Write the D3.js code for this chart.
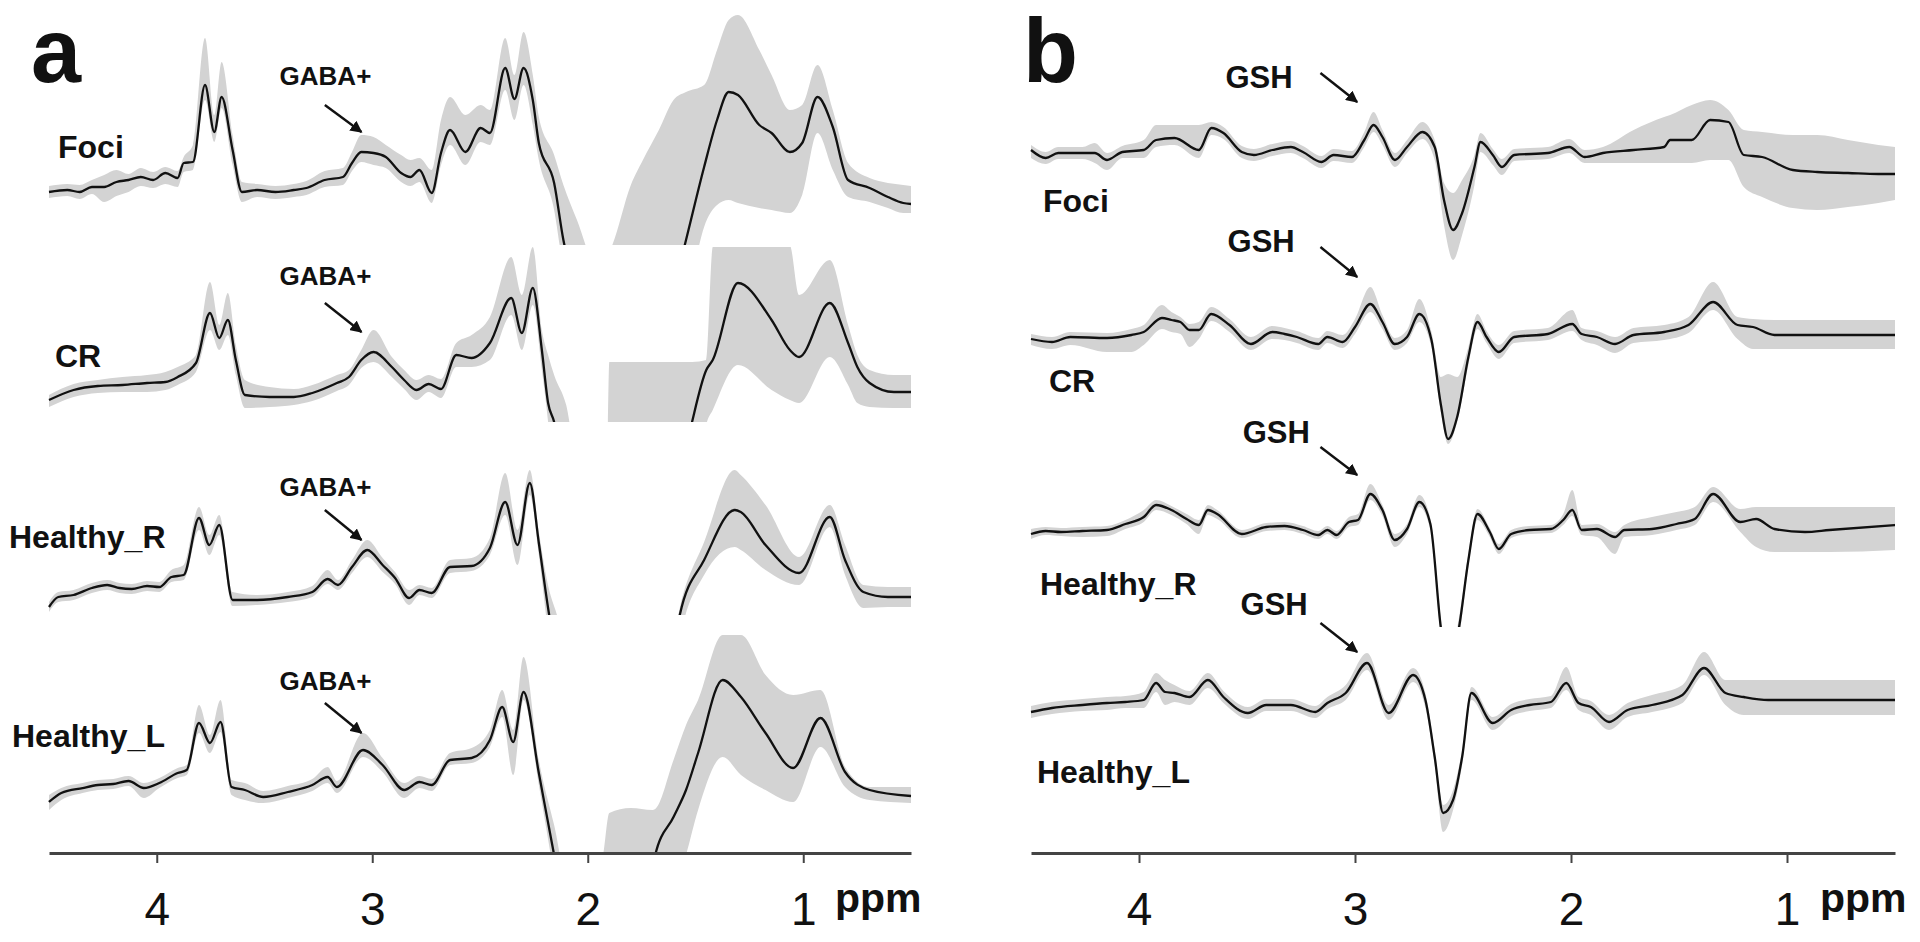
<!DOCTYPE html>
<html><head><meta charset="utf-8">
<script src="https://cdn.jsdelivr.net/npm/d3@7/dist/d3.min.js"></script>
<style>
html,body{margin:0;padding:0;background:#fff;}
svg{display:block;font-family:"Liberation Sans",Arial,sans-serif;}
</style></head>
<body>
<svg id="chart" width="1920" height="942"></svg>
<script>
// ---------------- DATA ----------------
const tickValues = [4, 3, 2, 1];
const tickLabels = ["4", "3", "2", "1"];
const axisUnit = "ppm";
const panelLetters = ["a", "b"];
const groupNames = ["Foci", "CR", "Healthy_R", "Healthy_L"];
const markerA = "GABA+";
const markerB = "GSH";

// Panel a (GABA-edited), intensities in a.u.
const ppmA_Foci = [4.50,4.415,4.358,4.301,4.244,4.187,4.131,4.074,4.017,3.960,3.903,3.875,3.832,3.776,3.733,3.699,3.648,3.605,3.534,3.449,3.364,3.306,3.221,3.136,3.094,3.051,2.994,2.937,2.866,2.823,2.781,2.724,2.681,2.639,2.568,2.497,2.454,2.383,2.340,2.298,2.255,2.227,2.156,2.113,2.05,1.95,1.886,1.80,1.744,1.67,1.602,1.544,1.460,1.400,1.346,1.303,1.204,1.147,1.062,1.005,0.934,0.863,0.792,0.692,0.607,0.536,0.500];
const meanA_Foci = [-0.2,0.0,-0.2,0.3,0.3,0.8,1.0,1.3,1.0,1.7,1.2,2.7,2.8,10.5,5.8,9.3,4.0,-0.2,0.0,-0.2,0.0,0.2,1.0,1.3,2.7,3.8,3.7,3.3,1.7,1.3,2.0,-0.3,3.7,6.0,3.8,6.2,5.7,12.2,9.1,12.2,9.0,4.7,0.7,-5.0,-10,-15,-15,-15,-15,-14,-10,-5.0,2.3,7.0,9.8,9.5,6.5,5.7,3.8,4.7,9.3,6.3,1.0,0.2,-0.7,-1.3,-1.4];
const hiA_Foci = [0.4,0.6,0.5,1.0,1.5,2.0,1.6,2.2,1.8,2.3,1.9,3.3,4.5,15.2,7.5,12.8,5.5,0.8,0.6,0.4,0.6,0.9,1.9,2.2,3.8,5.5,5.3,4.5,3.5,3.0,3.2,2.0,7.0,9.3,7.5,8.5,8.0,15.2,11.5,15.8,11.5,7.3,3.5,0.5,-3.0,-8,-5.5,0.5,3.0,6.0,9.0,9.8,10.5,14.0,17.0,17.5,14.0,11.5,8.0,8.5,12.5,8.0,2.7,1.2,0.7,0.5,0.4];
const loA_Foci = [-0.8,-0.6,-0.9,-0.4,-1.2,-0.6,-0.2,0.4,0.2,0.6,0.3,1.8,2.0,9.0,4.8,8.2,2.5,-1.2,-0.7,-0.9,-0.7,-0.5,0.3,0.5,1.9,2.8,2.5,2.2,0.8,0.4,0.8,-1.3,2.5,4.5,2.5,4.8,4.5,10.0,7.0,10.5,6.5,3.0,-2.0,-8.0,-15,-20,-20,-20,-20,-20,-18,-12,-3.7,-1.5,-1.0,-1.3,-1.8,-2.0,-2.3,-0.5,5.7,2.0,-0.7,-1.2,-1.8,-2.3,-2.3];

const ppmA_CR = [4.50,4.386,4.273,4.159,4.045,3.960,3.903,3.818,3.753,3.710,3.670,3.633,3.591,3.477,3.364,3.278,3.164,3.108,3.051,2.994,2.909,2.852,2.795,2.738,2.681,2.610,2.539,2.454,2.355,2.306,2.255,2.213,2.184,2.156,2.10,2.06,2.00,1.91,1.90,1.75,1.63,1.516,1.45,1.42,1.303,1.147,1.062,1.019,0.877,0.792,0.749,0.692,0.579,0.500];
const meanA_CR = [-0.5,0.5,0.9,1.0,1.2,1.3,1.8,3.2,8.2,5.7,7.5,3.5,0.0,-0.2,-0.2,0.2,1.2,1.8,3.5,4.3,2.8,1.5,0.5,1.1,0.6,4.0,3.7,5.2,9.7,6.2,10.7,4.5,-0.8,-2.7,-10,-15,-15,-15,-15,-15,-15,-2.7,2.5,3.5,11.2,7.5,4.5,3.8,9.2,5.2,2.8,1.2,0.3,0.3];
const hiA_CR = [0.0,1.1,1.5,1.8,2.0,2.3,2.8,4.0,11.3,7.0,10.2,5.0,1.5,0.8,0.6,1.0,2.0,2.5,4.5,6.5,3.8,2.5,1.5,2.0,1.6,5.2,6.0,7.8,13.8,10.0,14.8,6.5,4.0,2.0,-1.0,-5,-5,-5,3.3,3.3,3.3,3.3,3.5,14.8,16,16,15,10,13.5,7.0,4.0,2.5,2.0,2.0];
const loA_CR = [-1.2,-0.2,0.2,0.3,0.3,0.5,1.0,2.3,6.5,4.5,6.0,2.0,-1.3,-1.2,-1.0,-0.6,0.4,1.0,2.7,3.3,1.8,0.6,-0.5,0.3,-0.3,2.8,2.8,3.5,8.0,4.5,9.0,2.5,-2.7,-10,-20,-20,-20,-20,-20,-20,-20,-20,-3,-1.5,3.0,0.5,-0.5,-0.8,3.8,1.0,-0.8,-1.2,-1.3,-1.3];

const ppmA_HR = [4.50,4.457,4.386,4.301,4.230,4.173,4.116,4.045,3.988,3.932,3.875,3.804,3.756,3.710,3.648,3.534,3.392,3.278,3.207,3.159,3.094,3.023,2.952,2.894,2.829,2.781,2.724,2.639,2.539,2.454,2.383,2.326,2.269,2.227,2.179,2.15,2.0,1.65,1.573,1.460,1.318,1.290,1.175,1.019,0.877,0.806,0.721,0.607,0.500];
const meanA_HR = [-0.7,0.3,0.5,1.2,1.5,1.2,1.1,1.4,1.3,2.3,2.5,8.2,5.5,7.5,0.0,0.0,0.3,0.8,2.1,1.5,3.3,5.0,3.5,2.2,0.2,1.0,0.7,3.3,3.4,5.2,9.8,5.5,11.7,5.7,-1.5,-5,-15,-15,-1.5,4.0,9.0,8.8,5.5,2.7,8.3,4.0,0.8,0.3,0.3];
const hiA_HR = [-0.2,0.8,1.0,1.7,2.0,1.7,1.6,1.9,1.8,3.0,3.5,9.3,6.5,8.5,0.8,0.5,0.8,1.4,3.0,2.0,4.0,6.0,4.2,2.8,1.0,1.5,1.2,4.0,4.2,6.2,12.7,7.0,13.0,6.8,1.0,-1.0,-10,-10,-0.8,5.8,13.0,12.5,9.5,4.3,9.5,5.5,1.5,1.3,1.3];
const loA_HR = [-1.2,-0.2,0.0,0.7,1.0,0.7,0.6,0.9,0.8,1.8,2.0,7.0,4.5,6.5,-0.6,-0.5,-0.2,0.3,1.6,1.0,2.7,4.3,2.8,1.6,-0.5,0.5,0.2,2.7,2.9,4.5,8.5,3.5,10.5,4.5,-4,-8,-20,-20,-4,2.5,5.3,5.0,3.0,1.5,7.3,2.5,-0.8,-0.7,-0.7];

const ppmA_HL = [4.50,4.443,4.344,4.273,4.202,4.131,4.060,3.988,3.903,3.861,3.804,3.753,3.704,3.653,3.591,3.506,3.392,3.278,3.207,3.164,3.043,2.952,2.852,2.781,2.724,2.639,2.539,2.454,2.397,2.346,2.298,2.227,2.156,2.10,1.95,1.929,1.90,1.80,1.70,1.687,1.602,1.544,1.488,1.374,1.289,1.175,1.047,0.920,0.806,0.692,0.500];
const meanA_HL = [-0.7,0.2,0.7,1.0,1.1,1.4,0.7,1.2,2.2,2.5,7.2,5.2,7.3,0.8,0.5,-0.2,0.3,1.0,1.8,0.8,4.5,3.0,0.5,1.3,1.0,3.5,3.7,5.5,8.8,5.3,10.3,2.2,-6.0,-12,-15,-15,-15,-15,-12,-6.0,-2.2,0.5,4.2,11.5,9.8,6.2,2.7,7.7,2.3,0.5,-0.1];
const hiA_HL = [0.0,0.7,1.2,1.5,1.6,1.9,1.2,1.7,2.7,3.0,9.0,6.0,9.5,1.5,1.2,0.4,0.9,1.6,2.8,1.4,6.2,3.7,1.2,1.9,1.6,4.2,4.7,6.5,10.5,6.5,13.8,3.5,-3.0,-8,-8,-6,-1.8,-1.3,-1.5,-1.4,3.5,7.0,9.5,16,16,12,10.0,10.5,2.8,0.8,0.8];
const loA_HL = [-1.5,-0.5,0.2,0.5,0.6,0.9,-0.3,0.7,1.7,2.0,6.2,4.2,6.3,0.0,-0.5,-0.8,-0.3,0.4,1.2,0.2,3.8,2.3,-0.3,0.7,0.4,3.0,3.2,4.8,7.8,2.0,9.5,1.0,-8,-15,-20,-20,-20,-20,-20,-20,-10,-6.0,-1.5,3.8,2.0,0.5,-0.7,4.8,0.8,-0.5,-0.8];

// Panel b (GSH-edited)
const ppmB_Foci = [4.50,4.432,4.374,4.262,4.205,4.148,4.077,3.978,3.921,3.836,3.723,3.665,3.609,3.524,3.468,3.382,3.297,3.241,3.156,3.099,3.014,2.957,2.914,2.873,2.815,2.759,2.688,2.631,2.588,2.546,2.504,2.447,2.419,2.362,2.320,2.263,2.107,2.008,1.937,1.852,1.710,1.569,1.541,1.441,1.356,1.271,1.200,1.115,0.973,0.860,0.718,0.577,0.500];
const meanB_Foci = [0.5,-0.3,0.2,0.2,0.2,-0.5,0.3,0.5,1.5,1.7,0.5,2.7,2.2,0.3,0.0,0.5,0.8,0.3,-0.7,0.0,-0.2,1.5,3.0,1.8,-0.5,0.8,2.3,0.8,-4.5,-7.5,-5.8,-1.2,1.3,0.0,-1.2,0.0,0.2,0.8,-0.2,0.2,0.5,0.8,1.5,1.5,3.5,3.3,0.0,-0.2,-1.5,-1.7,-1.8,-1.9,-1.9];
const hiB_Foci = [1.0,0.3,0.8,0.8,1.2,0.2,0.9,1.5,3.0,3.0,3.0,3.3,2.8,0.9,0.6,1.1,1.4,0.9,-0.1,0.6,0.4,2.3,4.3,2.5,0.2,1.5,3.3,1.5,-2.8,-3.8,-2.5,0.0,2.2,0.6,-0.4,0.6,0.8,1.6,0.5,0.8,2.5,3.8,4.0,5.0,5.5,4.5,2.5,2.3,2.0,2.0,1.5,1.0,0.8];
const loB_Foci = [-0.3,-0.9,-0.4,-0.4,-0.8,-1.5,-0.3,-0.3,0.8,1.0,-0.3,2.0,1.6,-0.3,-0.6,-0.1,0.2,-0.3,-1.3,-0.6,-0.8,0.8,2.3,1.0,-1.2,0.2,1.6,-0.5,-7.0,-10.5,-8.0,-3.0,0.3,-1.0,-2.0,-0.6,-0.4,0.2,-0.8,-0.8,-0.8,-0.8,-0.8,-0.8,-0.5,-0.5,-3.2,-4.2,-5.3,-5.5,-5.2,-4.8,-4.5];

const ppmB_CR = [4.50,4.403,4.318,4.148,4.035,3.978,3.894,3.850,3.808,3.766,3.723,3.666,3.581,3.482,3.383,3.326,3.269,3.170,3.128,3.057,3.000,2.929,2.873,2.816,2.759,2.702,2.646,2.603,2.569,2.527,2.475,2.433,2.391,2.334,2.263,2.107,1.994,1.951,1.880,1.796,1.711,1.569,1.456,1.342,1.229,1.157,1.058,0.860,0.500];
const meanB_CR = [-0.2,-0.5,0.0,-0.1,0.2,0.5,1.9,1.7,1.5,0.7,0.7,2.3,1.2,-0.7,0.5,0.3,0.0,-0.7,0.0,-0.5,1.0,3.3,1.5,-0.7,0.0,2.3,-0.3,-6.7,-10.2,-8.0,-2.0,1.5,0.0,-1.5,0.0,0.3,1.3,0.3,0.0,-0.7,0.2,0.5,1.2,3.5,1.2,1.0,0.2,0.2,0.2];
const hiB_CR = [0.3,0.0,0.5,0.4,0.8,1.2,3.2,2.5,2.0,1.3,1.5,3.0,1.8,0.0,1.1,0.9,0.6,-0.1,0.6,0.2,1.8,5.0,2.2,-0.1,0.7,3.8,0.5,-4.0,-3.7,-4.0,-1.0,2.3,0.6,-0.8,0.6,0.9,2.7,0.9,0.6,0.0,0.9,1.2,2.0,5.5,2.0,1.8,1.7,1.7,1.7];
const loB_CR = [-0.8,-1.2,-0.8,-1.5,-1.5,-0.8,0.8,0.5,0.3,-1.0,-0.2,1.6,0.5,-1.3,-0.2,-0.3,-0.6,-1.3,-0.6,-1.1,0.3,2.5,0.8,-1.3,-0.6,1.5,-1.0,-7.5,-10.7,-8.5,-2.8,0.8,-0.6,-2.2,-0.6,-0.3,0.6,-0.3,-0.8,-1.6,-0.6,-0.3,0.4,2.7,-0.2,-1.2,-1.2,-1.2,-1.2];

const ppmB_HR = [4.50,4.432,4.361,4.262,4.148,4.063,3.978,3.921,3.850,3.780,3.723,3.681,3.638,3.524,3.411,3.326,3.241,3.170,3.128,3.085,3.028,2.986,2.929,2.873,2.816,2.759,2.702,2.651,2.603,2.57,2.518,2.475,2.433,2.376,2.334,2.277,2.192,2.093,2.036,1.994,1.951,1.880,1.796,1.753,1.625,1.512,1.427,1.342,1.216,1.143,1.058,0.917,0.803,0.500];
const meanB_HR = [-0.2,0.1,0.0,0.1,0.2,0.8,1.5,2.7,2.2,1.3,0.7,2.2,1.8,-0.2,0.5,0.6,0.2,-0.3,0.2,-0.3,1.0,1.2,3.8,2.2,-0.8,0.3,3.0,0.8,-9.5,-14,-9.5,-2.8,1.8,0.0,-1.7,-0.2,0.2,0.3,1.2,2.2,0.2,0.3,-0.5,0.2,0.3,0.8,1.3,3.8,1.0,1.3,0.3,0.0,0.2,0.7];
const hiB_HR = [0.3,0.5,0.4,0.5,0.6,1.2,2.2,3.2,2.6,1.8,1.2,2.7,2.2,0.2,0.9,1.0,0.6,0.1,0.6,0.1,1.5,1.8,4.8,2.7,-0.2,0.8,3.7,1.3,-8.5,-13,-8.5,-2.2,2.3,0.4,-1.2,0.2,0.6,0.7,1.8,4.2,0.7,0.8,0.0,0.7,1.5,2.0,2.5,4.5,2.3,2.5,2.5,2.5,2.5,2.5];
const loB_HR = [-0.7,-0.3,-0.4,-0.5,-0.4,0.3,1.0,2.2,1.7,0.8,-0.2,1.7,1.3,-0.6,0.1,0.2,-0.2,-0.7,-0.2,-0.7,0.5,0.7,3.2,1.6,-1.5,-0.2,2.5,0.2,-10.5,-15,-10.5,-3.4,1.2,-0.5,-2.2,-0.6,-0.2,-0.1,0.7,1.6,-0.3,-0.5,-2.2,-0.5,-0.3,0.2,0.7,3.0,0.0,-1.5,-2.0,-2.0,-2.0,-1.8];

const ppmB_HL = [4.50,4.403,4.262,4.148,4.063,3.978,3.921,3.879,3.836,3.766,3.681,3.609,3.496,3.411,3.297,3.184,3.128,3.043,2.944,2.844,2.731,2.674,2.631,2.592,2.546,2.504,2.461,2.362,2.277,2.192,2.093,2.022,1.965,1.908,1.824,1.738,1.625,1.484,1.384,1.285,1.200,1.087,0.917,0.500];
const meanB_HL = [-1.2,-0.8,-0.5,-0.3,-0.2,0.0,1.7,0.8,0.7,0.3,2.0,0.3,-1.3,-0.5,-0.5,-1.2,-0.3,0.7,3.7,-1.3,2.5,0.0,-5.7,-11.3,-10.0,-5.7,0.7,-2.3,-1.0,-0.5,-0.2,1.7,-0.3,-0.7,-2.2,-1.0,-0.5,0.5,3.2,0.7,0.3,0.0,0.0,0.0];
const hiB_HL = [-0.6,-0.2,0.1,0.3,0.4,0.8,2.7,2.0,1.5,0.9,2.7,0.9,-0.7,0.1,0.1,-0.6,0.3,1.5,4.7,-0.5,3.2,0.7,-5.0,-10.5,-9.0,-5.0,1.3,-1.7,-0.4,0.1,0.4,3.3,0.3,-0.1,-1.5,-0.3,0.5,1.5,4.8,2.0,2.0,2.0,2.0,2.0];
const loB_HL = [-1.8,-1.4,-1.1,-1.0,-0.8,-0.8,0.8,-0.5,-0.2,-0.5,1.2,-0.3,-1.9,-1.1,-1.1,-1.8,-0.9,0.0,3.0,-2.0,1.8,-0.8,-6.5,-13.2,-11.0,-6.5,0.0,-3.0,-1.6,-1.1,-0.8,1.0,-1.0,-1.5,-3.0,-1.7,-1.2,-0.3,2.5,-0.5,-1.5,-1.5,-1.5,-1.5];

// annotation targets (ppm of arrow tip / tail / label, intensity of tip / tail / label)
const arrowTipPpmA = 3.05, arrowTailPpmA = 3.22, labelPpmA = 3.43;
const arrowTipPpmB = 2.99, arrowTailPpmB = 3.16, labelPpmB = [3.60, 3.59, 3.52, 3.53];
const arrowTipA = [5.8, 6.3, 6.0, 6.2], arrowTailA = [8.5, 9.2, 9.0, 9.2], labelA = [10.5, 11.0, 10.4, 10.5];
const arrowTipB = [5.3, 6.0, 5.7, 4.8], arrowTailB = [8.2, 9.0, 8.5, 7.7], labelB = [6.7, 8.5, 8.9, 8.5];

// ---------------- LAYOUT ----------------
const svg = d3.select("#chart");
const bandColor = "#d3d3d3";
const panels = [
  { letter: panelLetters[0], range: [49, 911], letterX: 31, letterY: 82, unitX: 835,
    marker: markerA, tipP: arrowTipPpmA, tailP: arrowTailPpmA, labP: [labelPpmA,labelPpmA,labelPpmA,labelPpmA],
    tipV: arrowTipA, tailV: arrowTailA, labV: labelA, markerSize: 26,
    spectra: [
      { ppm: ppmA_Foci, mean: meanA_Foci, hi: hiA_Foci, lo: loA_Foci, base: 190, clip: [0, 245],  lx: 58, ly: 158 },
      { ppm: ppmA_CR,   mean: meanA_CR,   hi: hiA_CR,   lo: loA_CR,   base: 395, clip: [247, 422], lx: 55, ly: 367 },
      { ppm: ppmA_HR,   mean: meanA_HR,   hi: hiA_HR,   lo: loA_HR,   base: 600, clip: [430, 615], lx: 9,  ly: 548 },
      { ppm: ppmA_HL,   mean: meanA_HL,   hi: hiA_HL,   lo: loA_HL,   base: 795, clip: [635, 855], lx: 12, ly: 747 }
    ]},
  { letter: panelLetters[1], range: [1031, 1895], letterX: 1023, letterY: 82, unitX: 1820,
    marker: markerB, tipP: arrowTipPpmB, tailP: arrowTailPpmB, labP: labelPpmB,
    tipV: arrowTipB, tailV: arrowTailB, labV: labelB, markerSize: 31,
    spectra: [
      { ppm: ppmB_Foci, mean: meanB_Foci, hi: hiB_Foci, lo: loB_Foci, base: 155, clip: [0, 262],  lx: 1043, ly: 212 },
      { ppm: ppmB_CR,   mean: meanB_CR,   hi: hiB_CR,   lo: loB_CR,   base: 337, clip: [262, 446], lx: 1049, ly: 392 },
      { ppm: ppmB_HR,   mean: meanB_HR,   hi: hiB_HR,   lo: loB_HR,   base: 532, clip: [450, 627], lx: 1040, ly: 595 },
      { ppm: ppmB_HL,   mean: meanB_HL,   hi: hiB_HL,   lo: loB_HL,   base: 700, clip: [630, 852], lx: 1037, ly: 783 }
    ]}
];
const axisY = 853;

const defs = svg.append("defs");
defs.append("marker").attr("id", "arrowhead").attr("viewBox", "0 0 10 10")
  .attr("refX", 9).attr("refY", 5).attr("markerWidth", 5).attr("markerHeight", 5)
  .attr("markerUnits", "strokeWidth").attr("orient", "auto")
  .append("path").attr("d", "M0,0 L10,5 L0,10 Z").attr("fill", "#111");

panels.forEach((P, pi) => {
  const x = d3.scaleLinear().domain([4.5, 0.5]).range(P.range);
  const g = svg.append("g");

  P.spectra.forEach((S, si) => {
    const y = d3.scaleLinear().domain([0, 1]).range([S.base, S.base - 10]);
    const pts = S.ppm.map((p, i) => ({ p, m: S.mean[i], h: S.hi[i], l: S.lo[i] }));
    const cid = `clip-${pi}-${si}`;
    defs.append("clipPath").attr("id", cid).append("rect")
      .attr("x", P.range[0] - 4).attr("width", P.range[1] - P.range[0] + 8)
      .attr("y", S.clip[0]).attr("height", S.clip[1] - S.clip[0]);
    const sg = g.append("g").attr("clip-path", `url(#${cid})`);
    const area = d3.area().x(d => x(d.p)).y0(d => y(d.l)).y1(d => y(d.h)).curve(d3.curveMonotoneX);
    const line = d3.line().x(d => x(d.p)).y(d => y(d.m)).curve(d3.curveMonotoneX);
    sg.append("path").attr("d", area(pts)).attr("fill", bandColor).attr("stroke", "none");
    sg.append("path").attr("d", line(pts)).attr("fill", "none").attr("stroke", "#111")
      .attr("stroke-width", 2.3).attr("stroke-linejoin", "round");

    // group label
    g.append("text").attr("x", S.lx).attr("y", S.ly).text(groupNames[si])
      .attr("font-size", 32).attr("font-weight", "bold").attr("fill", "#111");

    // metabolite marker + arrow
    g.append("text").attr("x", x(P.labP[si])).attr("y", y(P.labV[si])).text(P.marker)
      .attr("font-size", P.markerSize).attr("font-weight", "bold").attr("fill", "#111");
    g.append("line")
      .attr("x1", x(P.tailP)).attr("y1", y(P.tailV[si]))
      .attr("x2", x(P.tipP)).attr("y2", y(P.tipV[si]))
      .attr("stroke", "#111").attr("stroke-width", 2.4).attr("marker-end", "url(#arrowhead)");
  });

  // axis
  const axis = d3.axisBottom(x).tickValues(tickValues)
    .tickFormat((d, i) => tickLabels[i]).tickSize(10).tickSizeOuter(0).tickPadding(29);
  const ag = svg.append("g").attr("transform", `translate(0,${axisY})`).call(axis);
  ag.select(".domain").attr("stroke", "#444").attr("stroke-width", 3);
  ag.selectAll(".tick line").attr("stroke", "#444").attr("stroke-width", 2);
  ag.selectAll(".tick text").attr("font-size", 46).attr("fill", "#111")
    .attr("font-family", "'Liberation Sans', Arial, sans-serif");

  svg.append("text").attr("x", P.unitX).attr("y", 912).text(axisUnit)
    .attr("font-size", 41).attr("font-weight", "bold").attr("fill", "#111");

  svg.append("text").attr("x", P.letterX).attr("y", P.letterY).text(P.letter)
    .attr("font-size", 90).attr("font-weight", "bold").attr("fill", "#111");
});
</script>
</body></html>
